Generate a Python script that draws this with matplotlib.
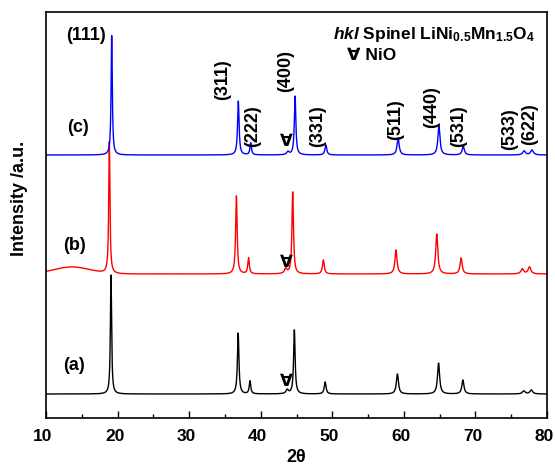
import numpy as np
import matplotlib
matplotlib.use("Agg")
from matplotlib import pyplot as plt
from matplotlib import transforms

plt.rcParams['font.family'] = ['Liberation Sans', 'DejaVu Sans']
plt.rcParams['font.weight'] = 'bold'
plt.rcParams['mathtext.fontset'] = 'custom'
plt.rcParams['mathtext.rm'] = 'Liberation Sans:bold'
plt.rcParams['mathtext.bf'] = 'Liberation Sans:bold'
plt.rcParams['mathtext.it'] = 'Liberation Sans:italic:bold'

# peak list: (111) (311) (222) NiO (400) (331) (511) (440) (531) (533) (622)
hkl = ['(111)', '(311)', '(222)', 'NiO', '(400)', '(331)', '(511)', '(440)', '(531)', '(533)', '(622)']
pos_a = [19.08, 36.85, 38.5, 43.7, 44.7, 49.0, 59.1, 64.85, 68.25, 76.75, 77.8]
pos_b = [18.85, 36.6, 38.3, 43.5, 44.47, 48.75, 58.9, 64.6, 68.0, 76.55, 77.55]
pos_c = [19.18, 36.87, 38.6, 43.8, 44.8, 49.1, 59.2, 64.9, 68.3, 76.8, 77.9]
fwhm = [0.2, 0.25, 0.25, 0.4, 0.25, 0.3, 0.35, 0.35, 0.35, 0.45, 0.45]
height_a = [119, 61, 13, 4, 64, 12, 20, 31, 14, 3, 4]
height_b = [132, 78, 16, 5, 82, 14, 24, 40, 16, 5, 7]
height_c = [120, 54, 12, 3, 59, 10, 17, 29, 9, 4, 5]
base_a, base_b, base_c = 24, 144, 263
# broad amorphous hump in (b)
hump_b = (13.6, 7, 6.0)  # centre, height, fwhm

x = np.linspace(10, 80, 4001)


def pattern(pos, heights, base):
    y = np.full_like(x, float(base))
    for p, h, w in zip(pos, heights, fwhm):
        y += h / (1 + ((x - p) / (w / 2)) ** 2)
    return y


ya = pattern(pos_a, height_a, base_a)
yb = pattern(pos_b, height_b, base_b)
c0, hh, ww = hump_b
yb += hh * np.exp(-4 * np.log(2) * ((x - c0) / ww) ** 2)
yc = pattern(pos_c, height_c, base_c)

fig = plt.figure(figsize=(5.55, 4.68), dpi=100)
ax = fig.add_axes([46 / 555, 1 - 418 / 468, 501 / 555, 406 / 468])
ax.plot(x, ya, color='black', lw=1.0)
ax.plot(x, yb, color='#ff0000', lw=1.0)
ax.plot(x, yc, color='#0000ff', lw=1.0)

ax.set_xlim(10, 80)
ax.set_ylim(0, 406)
ax.set_xticks(np.arange(10, 81, 10))
ax.set_xticks(np.arange(15, 80, 10), minor=True)
ax.tick_params(axis='x', which='major', direction='in', length=5, width=1, labelsize=12.5, pad=8)
ax.tick_params(axis='x', which='minor', direction='in', length=3, width=1)
ax.set_yticks([])
shift = transforms.ScaledTranslation(-3 / 100, 0, fig.dpi_scale_trans)
for lab in ax.get_xticklabels():
    lab.set_transform(lab.get_transform() + shift)
for s in ax.spines.values():
    s.set_linewidth(1.2)

fig.text(296 / 555, 1 - 457 / 468, '2θ', ha='center', va='center', fontsize=13)
fig.text(20 / 555, 1 - 198 / 468, 'Intensity /a.u.', rotation=90, ha='center', va='center', fontsize=13)

# hkl labels above the (c) peaks
lab_pos = [(34.7, 318, '(311)'), (38.8, 271, '(222)'), (43.5, 326, '(400)'), (48.0, 271, '(331)'),
           (58.8, 278, '(511)'), (63.9, 290, '(440)'), (67.6, 271, '(531)'), (74.8, 268, '(533)'),
           (77.6, 273, '(622)')]
for lx, ly, t in lab_pos:
    ax.text(lx, ly, t, rotation=90, ha='center', va='bottom', fontsize=13)
ax.text(12.8, 383, '(111)', ha='left', va='center', fontsize=13)

for yy in (36, 155, 276):
    ax.text(43.65, yy, '∀', ha='center', va='center', fontsize=12)

ax.text(13.0, 291, '(c)', ha='left', va='center', fontsize=13)
ax.text(12.4, 173, '(b)', ha='left', va='center', fontsize=13)
ax.text(12.4, 53, '(a)', ha='left', va='center', fontsize=13)

ax.text(50.1, 379, r'$\mathit{hkl}$ Spinel LiNi$_{\mathrm{0.5}}$Mn$_{\mathrm{1.5}}$O$_{\mathrm{4}}$',
        ha='left', va='baseline', fontsize=12.5)
ax.text(52.0, 358, '∀ NiO', ha='left', va='baseline', fontsize=12.5)

fig.savefig('out.png', dpi=100)
